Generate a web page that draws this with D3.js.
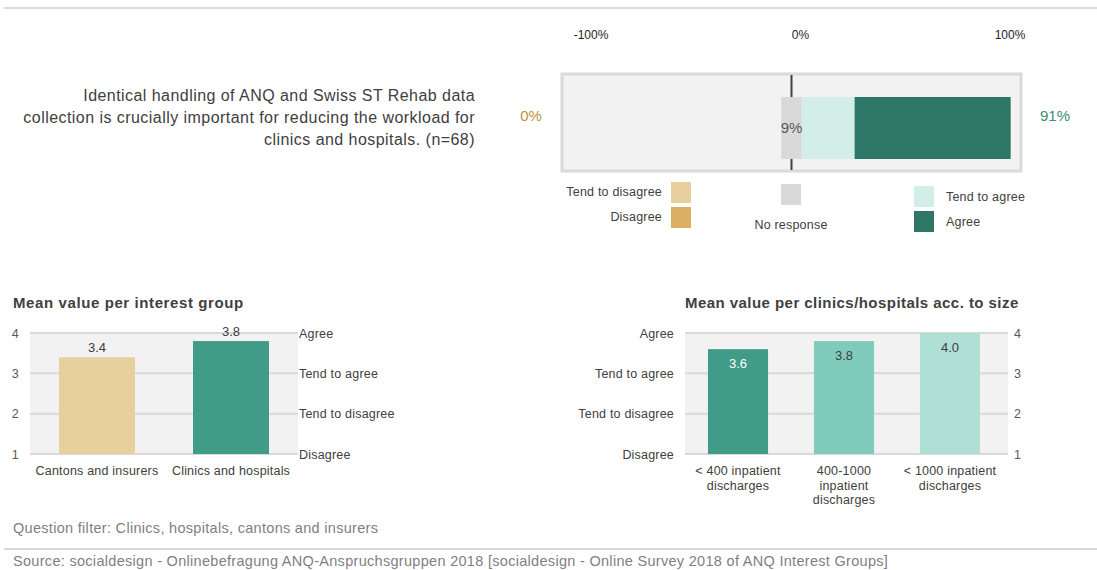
<!DOCTYPE html>
<html>
<head>
<meta charset="utf-8">
<script src="https://cdn.jsdelivr.net/npm/d3@7"></script>
<style>
  body { margin: 0; background: #fff; }
  svg { display: block; font-family: "Liberation Sans", Arial, sans-serif; }
</style>
</head>
<body>
<div id="container"></div>
<script>
var width = 1097;
var height = 570;

// top: agreement with the statement
var question = ["Identical handling of ANQ and Swiss ST Rehab data",
  "collection is crucially important for reducing the workload for",
  "clinics and hospitals. (n=68)"];
var answerCats = ["Disagree", "Tend to disagree", "No response", "Tend to agree", "Agree"];
var answerValues = [0, 0, 9, 23, 68];
var answerColors = ["#dbb062", "#e8cf9e", "#d9d9d9", "#d3ede7", "#2e7767"];
var pctTicks = [-100, 0, 100];

// bottom left: mean per interest group
var groupCats = ["Cantons and insurers", "Clinics and hospitals"];
var groupMeans = [3.4, 3.8];
var groupColors = ["#e8cf9e", "#409c89"];

// bottom right: mean per size
var sizeCats = [["< 400 inpatient", "discharges"], ["400-1000", "inpatient", "discharges"], ["< 1000 inpatient", "discharges"]];
var sizeMeans = [3.6, 3.8, 4.0];
var sizeColors = ["#409c89", "#80cbbb", "#b0dfd5"];
var sizeLabelColors = ["#ffffff", "#404040", "#404040"];

var scaleTicks = [1, 2, 3, 4];
var scaleNames = ["Disagree", "Tend to disagree", "Tend to agree", "Agree"];

var svg = d3.select("#container")
  .append("svg")
  .attr("width", width)
  .attr("height", height);

// separators
svg.append("rect").attr("x", 4).attr("y", 7).attr("width", width - 4).attr("height", 2).attr("fill", "#d9d9d9");
svg.append("rect").attr("x", 4).attr("y", 548).attr("width", width - 4).attr("height", 2).attr("fill", "#d9d9d9");

// ---------- diverging bar ----------
var x = d3.scaleLinear().domain([-100, 100]).range([562, 1021]);
var barTop = 97, barH = 62;

svg.selectAll(".pct")
  .data(pctTicks)
  .enter().append("text")
  .attr("x", function(d) { return x(d) + (d === 0 ? 9 : d < 0 ? 29 : -11); })
  .attr("y", 35)
  .attr("dy", "0.35em")
  .attr("text-anchor", "middle")
  .style("font-size", "12px")
  .style("fill", "#262626")
  .text(function(d) { return d + "%"; });

svg.append("rect")
  .attr("x", x(-100)).attr("y", 74)
  .attr("width", x(100) - x(-100)).attr("height", 97)
  .attr("fill", "#f2f2f2")
  .attr("stroke", "#dadada")
  .attr("stroke-width", 3);

svg.append("line")
  .attr("x1", x(0)).attr("x2", x(0))
  .attr("y1", 75).attr("y2", 170)
  .attr("stroke", "#404040")
  .attr("stroke-width", 2);

// stack outward from the centred "no response" segment
var half = answerValues[2] / 2;
var segs = [];
var neg = -half, pos = half;
[1, 0].forEach(function(i) {
  segs.push({ i: i, x0: neg - answerValues[i], x1: neg });
  neg -= answerValues[i];
});
segs.push({ i: 2, x0: -half, x1: half });
[3, 4].forEach(function(i) {
  segs.push({ i: i, x0: pos, x1: pos + answerValues[i] });
  pos += answerValues[i];
});

svg.selectAll(".seg")
  .data(segs)
  .enter().append("rect")
  .attr("x", function(d) { return x(d.x0); })
  .attr("y", barTop)
  .attr("width", function(d) { return x(d.x1) - x(d.x0); })
  .attr("height", barH)
  .attr("fill", function(d) { return answerColors[d.i]; });

svg.append("text")
  .attr("x", x(0)).attr("y", barTop + barH / 2)
  .attr("dy", "0.35em")
  .attr("text-anchor", "middle")
  .style("font-size", "15px")
  .style("fill", "#595959")
  .text(answerValues[2] + "%");

svg.append("text")
  .attr("x", 531).attr("y", 116)
  .attr("dy", "0.35em")
  .attr("text-anchor", "middle")
  .style("font-size", "15px")
  .style("fill", "#bf913a")
  .text((answerValues[0] + answerValues[1]) + "%");

svg.append("text")
  .attr("x", 1055).attr("y", 116)
  .attr("dy", "0.35em")
  .attr("text-anchor", "middle")
  .style("font-size", "15px")
  .style("fill", "#3e8c7a")
  .text((answerValues[3] + answerValues[4]) + "%");

svg.append("text")
  .attr("text-anchor", "end")
  .style("font-size", "16px")
  .style("letter-spacing", "0.45px")
  .style("fill", "#404040")
  .selectAll("tspan")
  .data(question)
  .enter().append("tspan")
  .attr("x", 475)
  .attr("y", function(d, i) { return 95 + i * 22; })
  .attr("dy", "0.35em")
  .text(function(d) { return d; });

// legend
var legend = [
  { i: 1, sx: 671, sy: 182, tx: 662, ty: 192, anchor: "end" },
  { i: 0, sx: 671, sy: 207, tx: 662, ty: 217, anchor: "end" },
  { i: 2, sx: 781, sy: 184, tx: 791, ty: 225, anchor: "middle" },
  { i: 3, sx: 914, sy: 186, tx: 946, ty: 197, anchor: "start" },
  { i: 4, sx: 914, sy: 211, tx: 946, ty: 222, anchor: "start" }
];
var lg = svg.selectAll(".legend")
  .data(legend)
  .enter().append("g");
lg.append("rect")
  .attr("x", function(d) { return d.sx; })
  .attr("y", function(d) { return d.sy; })
  .attr("width", 20).attr("height", 21)
  .attr("fill", function(d) { return answerColors[d.i]; });
lg.append("text")
  .attr("x", function(d) { return d.tx; })
  .attr("y", function(d) { return d.ty; })
  .attr("dy", "0.35em")
  .attr("text-anchor", function(d) { return d.anchor; })
  .style("font-size", "12.5px")
  .style("letter-spacing", "0.2px")
  .style("fill", "#404040")
  .text(function(d) { return answerCats[d.i]; });

// ---------- mean charts ----------
var y = d3.scaleLinear().domain([1, 4]).range([454, 333]);

function meanChart(opt) {
  var g = svg.append("g");
  g.append("text")
    .attr("x", opt.titleX).attr("y", 303)
    .attr("dy", "0.35em")
    .attr("text-anchor", "start")
    .style("font-size", "15px")
    .style("letter-spacing", opt.titleSpacing)
    .style("font-weight", "bold")
    .style("fill", "#404040")
    .text(opt.title);

  g.append("rect")
    .attr("x", opt.left).attr("y", y(4))
    .attr("width", opt.right - opt.left).attr("height", y(1) - y(4))
    .attr("fill", "#f2f2f2");

  g.selectAll(".grid")
    .data(scaleTicks)
    .enter().append("line")
    .attr("x1", opt.left).attr("x2", opt.right)
    .attr("y1", function(d) { return y(d); })
    .attr("y2", function(d) { return y(d); })
    .attr("stroke", "#d9d9d9")
    .attr("stroke-width", 2);

  var xb = d3.scaleBand()
    .domain(d3.range(opt.values.length))
    .range(opt.bandRange)
    .paddingInner(0.433)
    .paddingOuter(0.2165);

  g.selectAll(".bar")
    .data(opt.values)
    .enter().append("rect")
    .attr("x", function(d, i) { return xb(i); })
    .attr("y", function(d) { return y(d); })
    .attr("width", xb.bandwidth())
    .attr("height", function(d) { return y(1) - y(d); })
    .attr("fill", function(d, i) { return opt.colors[i]; });

  g.selectAll(".val")
    .data(opt.values)
    .enter().append("text")
    .attr("x", function(d, i) { return xb(i) + xb.bandwidth() / 2; })
    .attr("y", function(d) { return y(d) + opt.valOffset; })
    .attr("dy", "0.35em")
    .attr("text-anchor", "middle")
    .style("font-size", "13px")
    .style("fill", function(d, i) { return opt.valColors[i]; })
    .text(function(d) { return d.toFixed(1); });

  var cat = g.selectAll(".cat")
    .data(opt.cats)
    .enter().append("text")
    .attr("text-anchor", "middle")
    .style("font-size", "12.5px")
    .style("letter-spacing", "0.2px")
    .style("fill", "#404040");
  cat.selectAll("tspan")
    .data(function(d, i) { return (Array.isArray(d) ? d : [d]).map(function(t) { return { t: t, i: i }; }); })
    .enter().append("tspan")
    .attr("x", function(d) { return xb(d.i) + xb.bandwidth() / 2; })
    .attr("y", function(d, j) { return 471 + j * 14.5; })
    .attr("dy", "0.35em")
    .text(function(d) { return d.t; });

  var fmtNum = d3.format("d");
  var fmtName = function(d) { return scaleNames[d - 1]; };
  var numAxis = (opt.numSide === "left" ? d3.axisLeft(y) : d3.axisRight(y))
    .tickValues(scaleTicks).tickSize(0).tickPadding(0).tickFormat(fmtNum);
  var nameAxis = (opt.nameSide === "left" ? d3.axisLeft(y) : d3.axisRight(y))
    .tickValues(scaleTicks).tickSize(0).tickPadding(0).tickFormat(fmtName);

  var a1 = g.append("g")
    .attr("transform", "translate(" + opt.numX + ",0)")
    .call(numAxis);
  var a2 = g.append("g")
    .attr("transform", "translate(" + opt.nameX + ",0)")
    .call(nameAxis);
  [a1, a2].forEach(function(a) {
    a.select(".domain").remove();
    a.selectAll("text")
      .style("font-size", "12.5px")
      .style("letter-spacing", "0.2px")
      .style("font-family", "Liberation Sans, Arial, sans-serif")
      .style("fill", "#404040");
  });
  a1.selectAll("text").style("fill", "#595959");
}

meanChart({
  title: "Mean value per interest group",
  titleX: 13, titleSpacing: "0.6px",
  left: 30, right: 298,
  bandRange: [30, 298],
  values: groupMeans, colors: groupColors,
  valColors: ["#404040", "#404040"], valOffset: -10,
  cats: groupCats,
  numSide: "left", numX: 19,
  nameSide: "right", nameX: 299
});

meanChart({
  title: "Mean value per clinics/hospitals acc. to size",
  titleX: 685, titleSpacing: "0.45px",
  left: 685, right: 1008,
  bandRange: [685, 1003],
  values: sizeMeans, colors: sizeColors,
  valColors: sizeLabelColors, valOffset: 14,
  cats: sizeCats,
  numSide: "right", numX: 1014,
  nameSide: "left", nameX: 674
});

// footnotes
svg.append("text")
  .attr("x", 13).attr("y", 528)
  .attr("dy", "0.35em")
  .style("font-size", "14.5px")
  .style("letter-spacing", "0.3px")
  .style("fill", "#7f7f7f")
  .text("Question filter: Clinics, hospitals, cantons and insurers");

svg.append("text")
  .attr("x", 13).attr("y", 561)
  .attr("dy", "0.35em")
  .style("font-size", "14.5px")
  .style("letter-spacing", "0.3px")
  .style("fill", "#7f7f7f")
  .text("Source: socialdesign - Onlinebefragung ANQ-Anspruchsgruppen 2018 [socialdesign - Online Survey 2018 of ANQ Interest Groups]");
</script>
</body>
</html>
